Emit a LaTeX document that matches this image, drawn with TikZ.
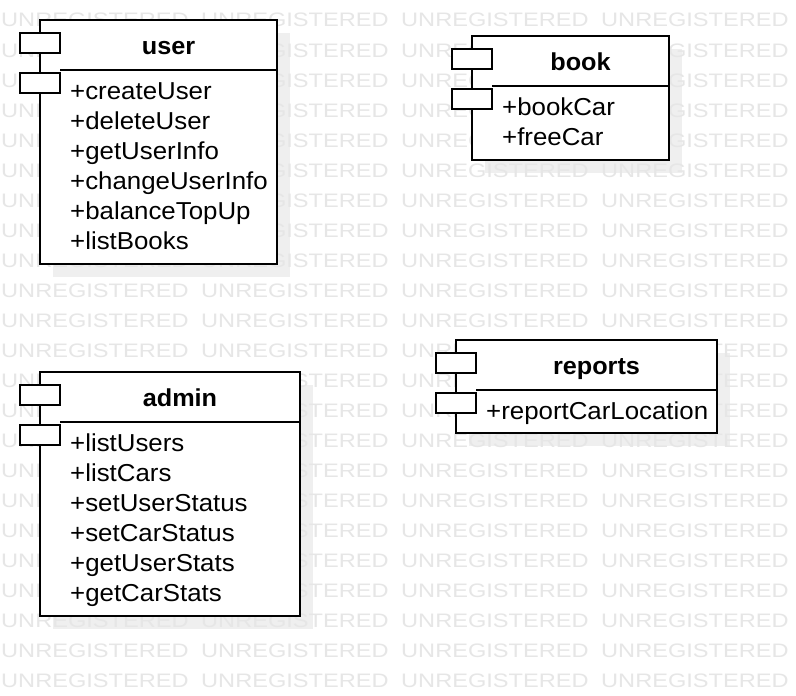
\documentclass[tikz,border=0pt]{standalone}
\usepackage{fontspec}
\setmainfont{Liberation Sans}
\usetikzlibrary{calc}
\pgfdeclarelayer{shadowlayer}
\pgfdeclarelayer{wmlayer}
\pgfsetlayers{shadowlayer,wmlayer,main}
\definecolor{shadowgray}{HTML}{EFEFEF}
\definecolor{wmgray}{HTML}{E6E6E6}
\tikzset{
  compbox/.style={draw=black, fill=white, line width=2pt, inner sep=0pt, outer sep=0pt, anchor=north west},
  porticon/.style={draw=black, fill=white, line width=2pt, inner sep=0pt, outer sep=0pt,
    minimum width=40pt, minimum height=20pt, anchor=north west},
  headline/.style={line width=2pt},
  titletext/.style={font=\fontsize{24.5}{30}\selectfont\bfseries, inner sep=0pt, anchor=base},
  itemtext/.style={font=\fontsize{24.5}{30}\selectfont, inner sep=0pt, anchor=base west},
  wmtext/.style={font=\fontsize{19.5}{20}\selectfont, text=wmgray, inner sep=0pt, anchor=base west},
  shadowbox/.style={fill=shadowgray}
}
% #1 name, #2 x, #3 y, #4 width, #5 height, #6 title, #7 items
\newcommand{\umlcomp}[7]{%
  \node[compbox, minimum width=#4pt, minimum height=#5pt] (#1) at (#2,#3) {};
  \draw[headline] ($(#1.north west)+(20,50)$) -- ($(#1.north east)+(0,50)$);
  \node[porticon] (#1-p1) at ($(#1.north west)+(-20,13)$) {};
  \node[porticon] (#1-p2) at ($(#1.north west)+(-20,53)$) {};
  \node[titletext] (#1-title) at ($(#1.north west)!0.5!(#1.north east)+(10,34)$) {\scalebox{1.03}[1]{#6}};
  \foreach \itm [count=\i] in {#7} {
    \node[itemtext] (#1-item\i) at ($(#1.north west)+(30,{79+30*(\i-1)})$) {\scalebox{1.055}[1]{\itm}};
  }
  \begin{pgfonlayer}{shadowlayer}
    \fill[shadowbox] ($(#1.north west)+(13,13)$) rectangle ($(#1.south east)+(13,13)$);
  \end{pgfonlayer}
}
\begin{document}
\begin{tikzpicture}[x=1pt,y=-1pt]
\useasboundingbox (0,0) rectangle (796,696);
\begin{pgfonlayer}{shadowlayer}
  \fill[white] (0,0) rectangle (796,696);
\end{pgfonlayer}
\begin{pgfonlayer}{wmlayer}
  \foreach \r in {0,...,22} {
    \foreach \c in {0,...,3} {
      \node[wmtext] (wm-\r-\c) at ({1+200*\c},{27+30*\r}) {\scalebox{1.21}[1]{UNREGISTERED}};
    }
  }
\end{pgfonlayer}
\umlcomp{user}{40}{20}{237}{244}{user}{+createUser,+deleteUser,+getUserInfo,+changeUserInfo,+balanceTopUp,+listBooks}
\umlcomp{book}{472}{36}{197}{124}{book}{+bookCar,+freeCar}
\umlcomp{reports}{456}{340}{261}{93}{reports}{+reportCarLocation}
\umlcomp{admin}{40}{372}{260}{244}{admin}{+listUsers,+listCars,+setUserStatus,+setCarStatus,+getUserStats,+getCarStats}
\end{tikzpicture}
\end{document}
